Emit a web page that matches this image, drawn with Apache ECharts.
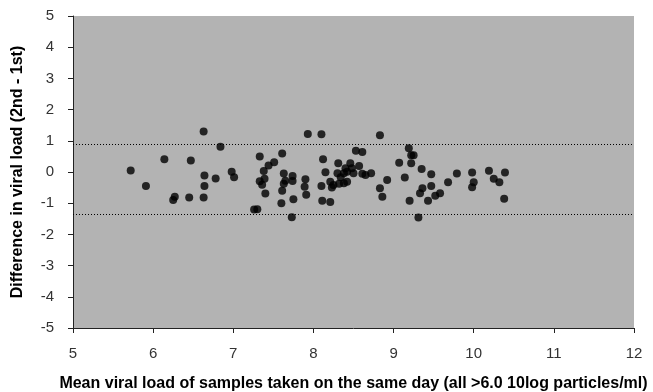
<!DOCTYPE html>
<html>
<head>
<meta charset="utf-8">
<script src="https://cdn.jsdelivr.net/npm/echarts@6/dist/echarts.min.js"></script>
<style>
  html, body { margin: 0; padding: 0; background: #fff; }
  #chart { width: 653px; height: 392px; }
</style>
</head>
<body>
<div id="chart"></div>
<script>
// Mean viral load (x) and difference 2nd - 1st (y)
const meanLoad = [
  5.72, 5.91, 6.14, 6.25, 6.27, 6.45, 6.47, 6.63, 6.64, 6.64,
  6.63, 6.78, 6.84, 6.98, 7.01, 7.26, 7.30, 7.33, 7.33, 7.39,
  7.36, 7.38, 7.40, 7.44, 7.51, 7.61, 7.63, 7.65, 7.63, 7.61,
  7.60, 7.74, 7.74, 7.75, 7.73, 7.90, 7.89, 7.91, 7.93, 8.10,
  8.12, 8.15, 8.10, 8.21, 8.23, 8.11, 8.21, 8.31, 8.30, 8.34,
  8.32, 8.25, 8.38, 8.42, 8.46, 8.40, 8.48, 8.57, 8.38, 8.42,
  8.50, 8.61, 8.65, 8.72, 8.53, 8.61, 8.83, 8.92, 8.83, 8.86,
  9.07, 9.14, 9.19, 9.22, 9.25, 9.22, 9.35, 9.47, 9.36, 9.33,
  9.47, 9.20, 9.43, 9.52, 9.58, 9.31, 9.68, 9.79, 9.98, 10.00,
  9.98, 10.19, 10.25, 10.32, 10.39, 10.38
];
const loadDiff = [
  0.05, -0.45, 0.41, -0.90, -0.79, -0.82, 0.37, 1.30, -0.11, -0.45,
  -0.82, -0.21, 0.81, 0.01, -0.17, -1.20, -1.19, 0.50, -0.30, -0.22,
  -0.41, 0.03, -0.69, 0.21, 0.31, 0.59, -0.05, -0.28, -0.38, -0.60,
  -1.00, -0.13, -0.29, -0.87, -1.45, -0.23, -0.47, -0.73, 1.22, 1.21,
  0.41, -0.01, -0.45, -0.31, -0.50, -0.92, -0.96, 0.28, -0.04, -0.17,
  -0.38, -0.42, -0.36, -0.31, 0.28, 0.12, 0.12, 0.19, -0.04, 0.01,
  -0.04, -0.06, -0.10, -0.04, 0.68, 0.64, 1.18, -0.26, -0.52, -0.79,
  0.30, -0.18, 0.76, 0.54, 0.54, 0.28, 0.10, -0.07, -0.52, -0.68,
  -0.45, -0.92, -0.92, -0.76, -0.68, -1.46, -0.33, -0.05, -0.02, -0.33,
  -0.49, 0.04, -0.22, -0.33, -0.02, -0.86
];
// Limits of agreement (dotted lines)
const limits = [0.88, -1.35];

const font = 'Liberation Sans, Arial, sans-serif';
const points = meanLoad.map((x, i) => [x, loadDiff[i]]);

const chart = echarts.init(document.getElementById('chart'));
chart.setOption({
  animation: false,
  grid: {
    left: 73, right: 19, top: 16, bottom: 64,
    outerBoundsMode: 'none',
    show: true,
    backgroundColor: '#b3b3b3',
    borderWidth: 0
  },
  xAxis: {
    type: 'value',
    min: 5, max: 12, interval: 1,
    name: 'Mean viral load of samples taken on the same day (all >6.0 10log particles/ml)',
    nameLocation: 'middle',
    nameGap: 48,
    nameTextStyle: { fontFamily: font, fontSize: 16, fontWeight: 'bold', color: '#000' },
    axisLine: { show: true, onZero: false, lineStyle: { color: '#222', width: 1 } },
    axisTick: { show: true, length: 5, lineStyle: { color: '#222' } },
    axisLabel: { fontFamily: font, fontSize: 15, color: '#333', margin: 18 },
    splitLine: { show: false }
  },
  yAxis: {
    type: 'value',
    min: -5, max: 5, interval: 1,
    name: 'Difference in viral load (2nd - 1st)',
    nameLocation: 'middle',
    nameGap: 47,
    nameTextStyle: { fontFamily: font, fontSize: 16, fontWeight: 'bold', color: '#000' },
    axisLine: { show: true, onZero: false, lineStyle: { color: '#222', width: 1 } },
    axisTick: { show: true, length: 5, lineStyle: { color: '#222' } },
    axisLabel: { fontFamily: font, fontSize: 15, color: '#333', margin: 19 },
    splitLine: { show: false }
  },
  series: [{
    type: 'scatter',
    data: points,
    symbol: 'circle',
    symbolSize: 8,
    itemStyle: { color: '#000' },
    markLine: {
      silent: true,
      symbol: 'none',
      label: { show: false },
      lineStyle: { color: '#000', type: [1, 2], width: 1 },
      data: limits.map(v => ({ yAxis: v }))
    }
  }]
});
</script>
</body>
</html>
